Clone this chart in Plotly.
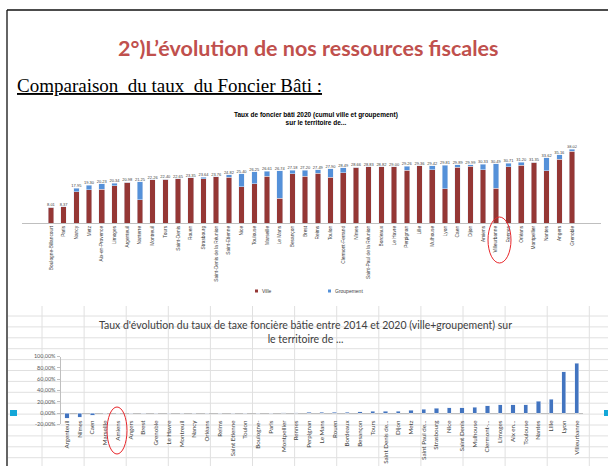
import plotly.graph_objects as go

W, H = 608, 466

def X(px):
    return px / W

def Y(py):
    return 1 - py / H

# ---------------- Data: top chart (2020 rates) ----------------
villes_2020 = ["Boulogne-Billancourt", "Paris", "Nancy", "Metz", "Aix-en-Provence", "Limoges",
               "Argenteuil", "Nanterre", "Montreuil", "Tours", "Saint-Denis", "Rouen", "Strasbourg",
               "Saint-Denis de la Réunion", "Saint-Etienne", "Nice", "Toulouse", "Marseille",
               "Le Mans", "Besançon", "Brest", "Reims", "Toulon", "Clermont-Ferrand", "Nîmes",
               "Saint-Paul de la Réunion", "Bordeaux", "Le Havre", "Perpignan", "Lille", "Mulhouse",
               "Lyon", "Caen", "Dijon", "Amiens", "Villeurbanne", "Rennes", "Orléans", "Montpellier",
               "Nantes", "Angers", "Grenoble"]
taux_total_2020 = [8.01, 8.37, 17.95, 19.30, 20.23, 20.34, 20.98, 21.25, 22.26, 22.40, 22.65, 23.35,
                   23.64, 23.76, 24.82, 25.40, 26.25, 26.61, 26.74, 27.18, 27.20, 27.49, 27.90, 28.49,
                   28.66, 28.83, 28.82, 29.00, 29.26, 29.36, 29.42, 29.81, 29.89, 29.99, 30.33, 30.49,
                   30.71, 31.20, 31.35, 33.62, 35.16, 38.02]
taux_groupement_2020 = [0.0, 0.0, 1.9, 2.2, 2.9, 1.2, 0.0, 9.4, 0.0, 0.0, 0.0, 0.0,
                        1.0, 0.0, 1.4, 6.8, 6.1, 2.6, 14.0, 1.9, 3.2, 2.0, 4.4, 2.7,
                        0.0, 0.0, 0.0, 0.0, 2.2, 0.0, 2.0, 12.3, 1.2, 0.8, 2.9, 12.5,
                        1.7, 1.4, 0.0, 6.8, 2.4, 1.0]
taux_ville_2020 = [round(t - g, 2) for t, g in zip(taux_total_2020, taux_groupement_2020)]
labels_total_2020 = [f"{v:.2f}" for v in taux_total_2020]
series_names = ["Ville", "Groupement"]

# ---------------- Data: bottom chart (evolution 2014-2020) ----------------
villes_evol = ["Argenteuil", "Nîmes", "Caen", "Marseille", "Amiens", "Angers", "Brest", "Grenoble",
               "Le Havre", "Montreuil", "Nancy", "Orléans", "Reims", "Saint Etienne", "Toulon",
               "Boulogne-", "Paris", "Montpellier", "Rennes", "Perpignan", "Le Mans", "Rouen",
               "Bordeaux", "Besançon", "Tours", "Saint Denis de...", "Dijon", "Metz",
               "Saint Paul de...", "Strasbourg", "Nice", "Saint Denis", "Mulhouse", "Clermont-...",
               "Limoges", "Aix en...", "Toulouse", "Nantes", "Lille", "Lyon", "Villeurbanne"]
evolution = [-0.094, -0.076, -0.040, 0.0, 0.0, 0.0, 0.0, 0.0, 0.0, 0.0, 0.0, 0.0, 0.0, 0.0, 0.0,
             0.0, 0.0, 0.006, 0.008, 0.012, 0.014, 0.015, 0.017, 0.023, 0.028, 0.032, 0.034, 0.050,
             0.070, 0.085, 0.090, 0.093, 0.100, 0.125, 0.142, 0.145, 0.143, 0.205, 0.240, 0.730,
             0.880]
evol_tickvals = [-0.2, 0.0, 0.2, 0.4, 0.6, 0.8, 1.0]
evol_ticktext = ["-20,00%", "0,00%", "20,00%", "40,00%", "60,00%", "80,00%", "100,00%"]

RED = "#953735"
BLUE = "#5591d9"
BLUE2 = "#4274c0"

fig = go.Figure()

fig.add_trace(go.Bar(x=villes_2020, y=taux_ville_2020, name=series_names[0], marker_color=RED,
                     width=0.44, showlegend=False, xaxis="x", yaxis="y"))
fig.add_trace(go.Bar(x=villes_2020, y=taux_groupement_2020, name=series_names[1], marker_color=BLUE,
                     width=0.44, showlegend=False, xaxis="x", yaxis="y"))
fig.add_trace(go.Scatter(x=villes_2020, y=taux_total_2020, text=labels_total_2020, mode="text",
                         textposition="top center", textfont=dict(size=4, color="#404040",
                                                                  family="Liberation Sans"),
                         showlegend=False, hoverinfo="skip", xaxis="x", yaxis="y"))

fig.add_trace(go.Bar(x=villes_evol, y=evolution, marker_color=BLUE2, width=0.33,
                     showlegend=False, xaxis="x2", yaxis="y2"))

# ---------------- shapes ----------------
shapes = []
# spreadsheet-like grid behind bottom chart
gy = 316.0
while gy < H:
    shapes.append(dict(type="line", xref="paper", yref="paper", x0=X(8), x1=1, y0=Y(gy), y1=Y(gy),
                       line=dict(color="#e0e0e0", width=1), layer="below"))
    gy += 10.9
gx = 42.0
while gx < W:
    shapes.append(dict(type="line", xref="paper", yref="paper", x0=X(gx), x1=X(gx), y0=Y(306), y1=0,
                       line=dict(color="#e0e0e0", width=1), layer="below"))
    gx += 42.1
# slide frame
shapes.append(dict(type="line", xref="paper", yref="paper", x0=X(7), x1=1, y0=Y(10), y1=Y(10),
                   line=dict(color="#111111", width=1.3)))
shapes.append(dict(type="line", xref="paper", yref="paper", x0=X(7), x1=X(7), y0=Y(10), y1=0,
                   line=dict(color="#111111", width=1.3)))
# red circles
shapes.append(dict(type="circle", xref="paper", yref="paper", x0=X(488), x1=X(511), y0=Y(217),
                   y1=Y(263), line=dict(color="#e8262a", width=1)))
shapes.append(dict(type="circle", xref="paper", yref="paper", x0=X(107), x1=X(127), y0=Y(407),
                   y1=Y(454), line=dict(color="#e8262a", width=1)))
# cyan handles
shapes.append(dict(type="rect", xref="paper", yref="paper", x0=X(10), x1=X(17), y0=Y(410), y1=Y(416),
                   line=dict(width=0), fillcolor="#14a7d8"))
shapes.append(dict(type="rect", xref="paper", yref="paper", x0=X(604), x1=X(608), y0=Y(410),
                   y1=Y(416), line=dict(width=0), fillcolor="#14a7d8"))
# legend swatches (top chart)
shapes.append(dict(type="rect", xref="paper", yref="paper", x0=X(255), x1=X(258), y0=Y(289.5),
                   y1=Y(292.5), line=dict(width=0), fillcolor=RED))
shapes.append(dict(type="rect", xref="paper", yref="paper", x0=X(328), x1=X(331), y0=Y(289.5),
                   y1=Y(292.5), line=dict(width=0), fillcolor=BLUE))

annotations = [
    dict(text="<b>2°)L’évolution de nos ressources fiscales</b>", x=X(308), y=Y(48), xref="paper",
         yref="paper", xanchor="center", yanchor="middle", showarrow=False,
         font=dict(family="Lato", size=21.5, color="#c0504d")),
    dict(text="<u>Comparaison  du taux  du Foncier Bâti :</u>", x=X(15), y=Y(86), xref="paper",
         yref="paper", xanchor="left", yanchor="middle", showarrow=False,
         font=dict(family="Liberation Serif", size=19, color="#000000")),
    dict(text="<b>Taux de foncier bâti 2020 (cumul ville et groupement)<br>sur le territoire de...</b>",
         x=X(316), y=Y(119), xref="paper", yref="paper", xanchor="center", yanchor="middle",
         showarrow=False, font=dict(family="Liberation Sans", size=6.5, color="#000000")),
    dict(text="Taux d'évolution du taux de taxe foncière bâtie entre 2014 et 2020 (ville+groupement) sur<br>le territoire de ...",
         x=X(305), y=Y(332), xref="paper", yref="paper", xanchor="center", yanchor="middle",
         showarrow=False, font=dict(family="Lato", size=10.5, color="#404040")),
    dict(text=series_names[0], x=X(260), y=Y(291), xref="paper", yref="paper", xanchor="left",
         yanchor="middle", showarrow=False,
         font=dict(family="Liberation Sans", size=5, color="#404040")),
    dict(text=series_names[1], x=X(333), y=Y(291), xref="paper", yref="paper", xanchor="left",
         yanchor="middle", showarrow=False,
         font=dict(family="Liberation Sans", size=5, color="#404040")),
]

fig.update_layout(
    width=W, height=H, margin=dict(l=0, r=0, t=0, b=0, autoexpand=False),
    paper_bgcolor="white", plot_bgcolor="rgba(0,0,0,0)",
    barmode="stack", bargap=0.5, showlegend=False,
    xaxis=dict(domain=[X(22), X(601)], anchor="y", tickangle=-90, showgrid=False, automargin=False,
               showline=True, linecolor="#bfbfbf", ticks="",
               tickfont=dict(family="Liberation Sans", size=4.8, color="#404040")),
    yaxis=dict(domain=[Y(223), Y(145.2)], range=[0, 40], anchor="x", visible=False,
               automargin=False),
    xaxis2=dict(domain=[X(60.6), X(583)], anchor="y2", tickangle=-90, showgrid=False,
                showline=False, ticks="", automargin=False, ticklabelstandoff=-6,
                tickfont=dict(family="Lato", size=6.2, color="#404040")),
    yaxis2=dict(domain=[Y(424.3), Y(356.5)], range=[-0.2, 1.0], anchor="x2", automargin=False,
                tickvals=evol_tickvals, ticktext=evol_ticktext, showgrid=False,
                showline=True, linecolor="#bfbfbf", ticks="outside", ticklen=3, tickcolor="#bfbfbf",
                zeroline=True, zerolinecolor="#bfbfbf", zerolinewidth=1,
                tickfont=dict(family="Lato", size=5.5, color="#595959")),
    shapes=shapes, annotations=annotations,
)

fig.write_html("out.html", config={"displayModeBar": False},
               post_script="document.body.style.margin='0px';document.body.style.overflow='hidden';")
